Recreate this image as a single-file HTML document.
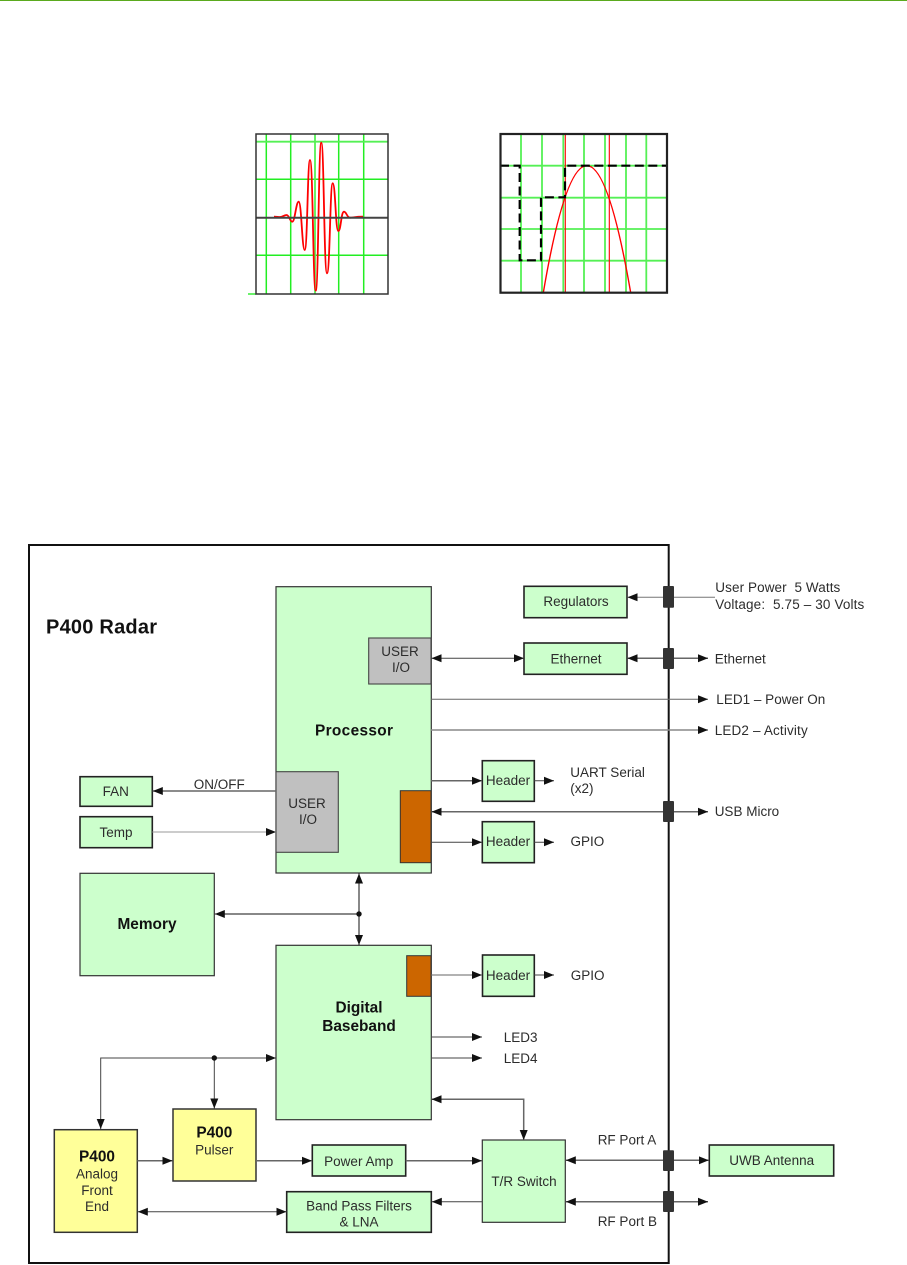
<!DOCTYPE html>
<html>
<head>
<meta charset="utf-8">
<style>
html,body{margin:0;padding:0;background:#fff;width:907px;height:1265px;overflow:hidden}
svg{display:block}
text{font-family:"Liberation Sans",sans-serif;font-size:13.5px;fill:#2c2c2c}
.b{font-weight:bold;fill:#111;font-size:15.4px}
.m{text-anchor:middle}
.g{fill:#ccffcc;stroke:#333;stroke-width:1.2}
.gt{fill:#ccffcc;stroke:#222;stroke-width:1.6}
.y{fill:#ffff99;stroke:#333;stroke-width:1.5}
.s{fill:#c0c0c0;stroke:#444;stroke-width:1.1}
.o{fill:#cc6600;stroke:#333;stroke-width:1}
.c{fill:#333;stroke:none}
.l{fill:none;stroke:#444;stroke-width:1}
.h{fill:none;stroke:#666;stroke-width:1.5}
.gr{stroke:#22ee22;stroke-width:1.5;fill:none}
.grh{stroke:#55f055;stroke-width:1.8;fill:none}
</style>
</head>
<body>
<svg width="907" height="1265" viewBox="0 0 907 1265" xmlns="http://www.w3.org/2000/svg">
<defs>
<marker id="a" markerUnits="userSpaceOnUse" markerWidth="11" markerHeight="9" refX="10" refY="4.500" orient="auto-start-reverse">
<path d="M0,0.500 L10,4.500 L0,8.500 Z" fill="#111"/>
</marker>
</defs>
<rect x="0" y="0" width="907" height="1" fill="#5aaa1e"/>

<!-- Plot 1 -->
<g>
<path class="gr" d="M266.300,134V294M290.700,134V294M338.700,134V294M363.700,134V294M256,179.300H388M256,255.300H388"/>
<path class="grh" d="M315,134V294M256,141.700H388M248,294H256"/>
<path d="M274,216.700C277,216.700 278,217 280,217C283,217 284,215 286.700,215C289,215 290,221.700 292.300,221.700C295,221.700 296,201.700 298.700,201.700C301.500,201.700 302,250 304.700,250C307.500,250 307.500,160 310,160C313,160 313,290.700 315.700,290.700C318.500,290.700 318.500,142.700 321.300,142.700C324,142.700 324,273.300 327,273.300C330,273.300 330,183.300 332.700,183.300C335.500,183.300 335.500,231 338.300,231C341,231 341,211.700 344,211.700C346.500,211.700 347,217.700 350,217.700C353,217.700 355,216.700 363,216.700" fill="none" stroke="#f00" stroke-width="1.8"/>
<path d="M256,217.700H388" stroke="#444" stroke-width="2" fill="none"/>
<rect x="256" y="134" width="132" height="160" fill="none" stroke="#333" stroke-width="1.500"/>
</g>

<!-- Plot 2 -->
<g>
<path class="grh" d="M521,134V293M542,134V293M563.300,134V293M584,134V293M605,134V293M626,134V293M646.300,134V293M500,165.700H667M500,197.700H667M500,229H667M500,260.700H667"/>
<path d="M565.300,134V293M609.300,134V293" stroke="#f00" stroke-width="1.1" fill="none"/>
<path d="M543.300,292.700Q586.700,38.700 630.700,292.700" fill="none" stroke="#f00" stroke-width="1.4"/>
<path d="M500,165.700H519.700V260.300H541V197.300H565V165.700H667" fill="none" stroke="#000" stroke-width="2.2" stroke-dasharray="9 4.500"/>
<rect x="500.500" y="134" width="166.500" height="158.700" fill="none" stroke="#222" stroke-width="2.2"/>
</g>

<!-- Outer frame -->
<rect x="29" y="545" width="639.700" height="718" fill="#fff" stroke="#111" stroke-width="2"/>

<!-- Boxes -->
<rect class="g" x="276" y="586.700" width="155.300" height="286.300"/>
<rect class="s" x="368.700" y="638" width="62.300" height="46"/>
<rect class="s" x="276" y="771.700" width="62.300" height="80.600"/>
<rect class="o" x="400.300" y="790.700" width="30.700" height="72"/>
<rect class="gt" x="80" y="776.700" width="72.300" height="29.600"/>
<rect class="gt" x="80" y="816.700" width="72.300" height="31"/>
<rect class="g" x="80" y="873.300" width="134.300" height="102.400"/>
<rect class="g" x="276" y="945.300" width="155.300" height="174.400"/>
<rect class="o" x="406.700" y="955.700" width="24.300" height="40.600"/>
<rect class="gt" x="482.500" y="955" width="51.800" height="41.300"/>
<rect class="gt" x="524" y="586.300" width="103" height="31.400"/>
<rect class="gt" x="524" y="643" width="103" height="31.300"/>
<rect class="gt" x="482.300" y="760.700" width="52" height="40.600"/>
<rect class="gt" x="482.300" y="821.700" width="52" height="41"/>
<rect class="g" x="482.300" y="1140" width="83" height="82.300"/>
<rect class="gt" x="709.300" y="1145" width="124.400" height="31"/>
<rect class="y" x="54.300" y="1129.700" width="83" height="102.600"/>
<rect class="y" x="173" y="1109" width="83" height="72"/>
<rect class="gt" x="312.300" y="1145" width="93.400" height="31"/>
<rect class="gt" x="286.700" y="1191.700" width="144.600" height="40.600"/>

<!-- Connectors -->
<path class="l" style="stroke:#777" d="M674,597.300H715"/>
<path class="l" style="stroke:#777" d="M674,597.300H627.500" marker-end="url(#a)"/>
<path class="l" d="M431.500,658.300H524" marker-start="url(#a)" marker-end="url(#a)"/>
<path class="h" d="M627.500,658.300H708" marker-start="url(#a)" marker-end="url(#a)"/>
<path class="l" style="stroke:#666" d="M431,699.300H708" marker-end="url(#a)"/>
<path class="h" style="stroke:#888" d="M431,730H708" marker-end="url(#a)"/>
<path class="h" d="M431,780.700H482" marker-end="url(#a)"/>
<path class="l" d="M534.300,780.700H554" marker-end="url(#a)"/>
<path class="h" d="M431.500,811.700H708" marker-start="url(#a)" marker-end="url(#a)"/>
<path class="l" d="M431,842.300H482" marker-end="url(#a)"/>
<path class="l" d="M534.300,842.300H554" marker-end="url(#a)"/>
<path class="h" d="M276,791H152.800" marker-end="url(#a)"/>
<path class="l" style="stroke:#999" d="M152.300,832H276" marker-end="url(#a)"/>
<path class="l" style="stroke:#111" d="M359,873.500V945" marker-start="url(#a)" marker-end="url(#a)"/>
<path class="l" style="stroke:#111" d="M359,914H214.800" marker-end="url(#a)"/>
<circle cx="359" cy="914" r="2.700" fill="#111"/>
<path class="l" style="stroke:#666" d="M431,975H482" marker-end="url(#a)"/>
<path class="l" d="M534.300,975H554" marker-end="url(#a)"/>
<path class="l" d="M431,1037H482" marker-end="url(#a)"/>
<path class="l" d="M431,1058H482" marker-end="url(#a)"/>
<path class="h" d="M431.500,1099.300H523.700V1140" marker-start="url(#a)" marker-end="url(#a)"/>
<path class="l" d="M276,1058H100.700V1129" marker-end="url(#a)"/>
<path class="l" d="M214.300,1058H276" marker-end="url(#a)"/>
<path class="l" d="M214.300,1058V1108.500" marker-end="url(#a)"/>
<circle cx="214.300" cy="1058" r="2.700" fill="#111"/>
<path class="h" d="M137.300,1160.700H172.500" marker-end="url(#a)"/>
<path class="h" d="M256,1160.700H312" marker-end="url(#a)"/>
<path class="h" d="M405.700,1160.700H482" marker-end="url(#a)"/>
<path class="l" d="M137.800,1211.700H286.500" marker-start="url(#a)" marker-end="url(#a)"/>
<path class="l" d="M482.300,1201.700H431.800" marker-end="url(#a)"/>
<path class="h" d="M565.800,1160.300H708.800" marker-start="url(#a)" marker-end="url(#a)"/>
<path class="h" d="M565.800,1201.700H708" marker-start="url(#a)" marker-end="url(#a)"/>

<!-- Panel connectors -->
<rect class="c" x="663" y="586" width="11" height="21.700" rx="1"/>
<rect class="c" x="663" y="648" width="11" height="21" rx="1"/>
<rect class="c" x="663" y="801" width="11" height="21" rx="1"/>
<rect class="c" x="663" y="1150.300" width="11" height="20.700" rx="1"/>
<rect class="c" x="663" y="1191" width="11" height="21" rx="1"/>

<!-- Text -->
<text x="46" y="633.700" style="font-size:20px;font-weight:bold;fill:#111" textLength="111">P400 Radar</text>
<text class="b" x="315" y="735.500" textLength="78">Processor</text>
<text class="b m" x="147" y="929">Memory</text>
<text class="b m" x="359" y="1012.300">Digital</text>
<text class="b m" x="359" y="1031">Baseband</text>
<text class="b m" x="97" y="1161.700">P400</text>
<text class="b m" x="214.300" y="1137.700">P400</text>

<text class="m" x="576" y="606">Regulators</text>
<text class="m" x="576" y="663.300">Ethernet</text>
<text x="715.300" y="592" xml:space="preserve" textLength="125">User Power  5 Watts</text>
<text x="715.300" y="609" xml:space="preserve" textLength="149">Voltage:  5.75 – 30 Volts</text>
<text class="m" x="400" y="656">USER</text>
<text class="m" x="401" y="672">I/O</text>
<text x="714.700" y="663.300">Ethernet</text>
<text x="716.300" y="704" textLength="109">LED1 – Power On</text>
<text x="714.700" y="735" textLength="93">LED2 – Activity</text>
<text class="m" x="508" y="785">Header</text>
<text class="m" x="508" y="846">Header</text>
<text class="m" x="508" y="980">Header</text>
<text x="570.300" y="777">UART Serial</text>
<text x="570.300" y="793">(x2)</text>
<text x="714.700" y="816">USB Micro</text>
<text x="570.500" y="846">GPIO</text>
<text x="570.700" y="980">GPIO</text>
<text class="m" x="219.300" y="789">ON/OFF</text>
<text class="m" x="115.700" y="796">FAN</text>
<text class="m" x="116" y="837">Temp</text>
<text class="m" x="307" y="808">USER</text>
<text class="m" x="308" y="824">I/O</text>
<text x="503.700" y="1042">LED3</text>
<text x="503.700" y="1063">LED4</text>
<text class="m" x="97" y="1178.700">Analog</text>
<text class="m" x="97" y="1195">Front</text>
<text class="m" x="97" y="1211">End</text>
<text class="m" x="214.300" y="1154.700">Pulser</text>
<text class="m" x="358.700" y="1166">Power Amp</text>
<text class="m" x="359" y="1210.700">Band Pass Filters</text>
<text class="m" x="359" y="1226.700">&amp; LNA</text>
<text class="m" x="524" y="1186">T/R Switch</text>
<text x="597.700" y="1144.300">RF Port A</text>
<text x="597.700" y="1226">RF Port B</text>
<text class="m" x="771.700" y="1165">UWB Antenna</text>
</svg>
</body>
</html>
